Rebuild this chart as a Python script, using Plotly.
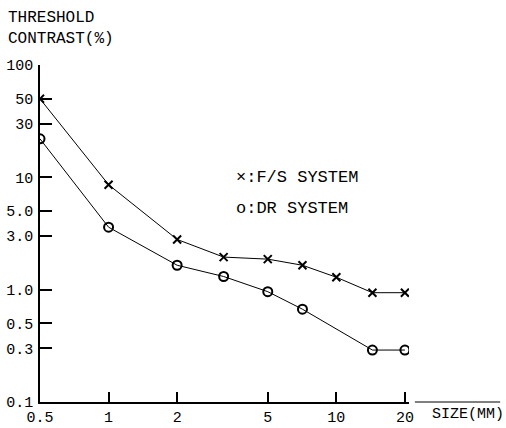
import plotly.graph_objects as go

size_fs = [0.5, 1.0, 2.0, 3.2, 5.0, 7.1, 10.0, 14.4, 20.0]
contrast_fs = [50, 8.6, 2.8, 1.95, 1.87, 1.65, 1.29, 0.94, 0.94]
size_dr = [0.5, 1.0, 2.0, 3.2, 5.0, 7.1, 14.4, 20.0]
contrast_dr = [22, 3.6, 1.65, 1.31, 0.96, 0.67, 0.29, 0.29]

x_tickvals = [0.5, 1, 2, 5, 10, 20]
x_ticktext = ["0.5", "1", "2", "5", "10", "20"]
y_tickvals = [0.1, 0.3, 0.5, 1.0, 3.0, 5.0, 10, 30, 50, 100]
y_ticktext = ["0.1", "0.3", "0.5", "1.0", "3.0", "5.0", "10", "30", "50", "100"]

FONT = "Liberation Mono"

fig = go.Figure()
fig.add_trace(go.Scatter(
    x=size_fs, y=contrast_fs, mode="lines+markers",
    line=dict(color="black", width=1),
    marker=dict(symbol="x-thin", size=8, line=dict(color="black", width=2)),
    name="F/S SYSTEM", showlegend=False))
fig.add_trace(go.Scatter(
    x=size_dr, y=contrast_dr, mode="lines+markers",
    line=dict(color="black", width=1),
    marker=dict(symbol="circle-open", size=9, color="black", line=dict(width=2)),
    name="DR SYSTEM", showlegend=False))

fig.update_xaxes(
    type="log", range=[-0.30103, 1.319], automargin=False,
    tickvals=x_tickvals, ticktext=x_ticktext,
    ticks="inside", ticklen=10, tickwidth=1.5, tickcolor="black",
    showline=True, linecolor="black", linewidth=1.5,
    showgrid=False, zeroline=False,
    tickfont=dict(family=FONT, size=15, color="black"))
fig.update_yaxes(
    type="log", range=[-1, 2], automargin=False,
    tickvals=y_tickvals, ticktext=y_ticktext,
    ticks="inside", ticklen=12, tickwidth=1.5, tickcolor="black",
    showline=True, linecolor="black", linewidth=1.5,
    showgrid=False, zeroline=False, ticklabelstandoff=2,
    tickfont=dict(family=FONT, size=15, color="black"))

fig.add_shape(type="line", xref="paper", yref="paper",
              x0=1.016, x1=1.247, y0=0, y1=0,
              line=dict(color="black", width=1.2))

fig.add_annotation(text="SIZE(MM)", xref="paper", yref="paper",
                   x=1.058, y=0, xanchor="left", yanchor="top", yshift=-2,
                   showarrow=False, font=dict(family=FONT, size=15, color="black"))
fig.add_annotation(text="THRESHOLD<br>CONTRAST(%)", xref="paper", yref="paper",
                   x=-0.092, y=1, xanchor="left", yanchor="top", yshift=58,
                   align="left", showarrow=False,
                   font=dict(family=FONT, size=16, color="black"))
fig.add_annotation(text="×:F/S SYSTEM", xref="paper", yref="paper",
                   x=0.525, y=0.665, xanchor="left", yanchor="middle",
                   showarrow=False, font=dict(family=FONT, size=17, color="black"))
fig.add_annotation(text="o:DR SYSTEM", xref="paper", yref="paper",
                   x=0.525, y=0.575, xanchor="left", yanchor="middle",
                   showarrow=False, font=dict(family=FONT, size=17, color="black"))

fig.update_layout(
    width=506, height=428,
    margin=dict(l=40, r=97, t=65, b=26),
    paper_bgcolor="white", plot_bgcolor="white",
    font=dict(family=FONT, color="black"))

fig.write_html("out.html", config={"displayModeBar": False},
               post_script="document.body.style.margin='0px';")
